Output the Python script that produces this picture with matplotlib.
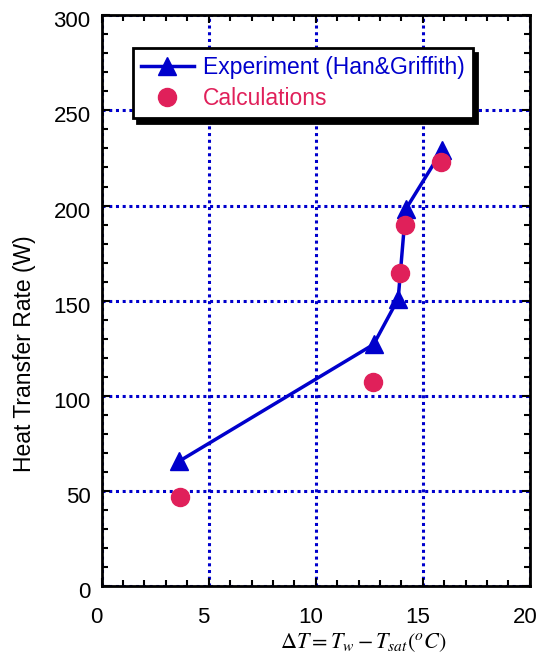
import matplotlib
matplotlib.use("Agg")
import matplotlib.pyplot as plt
from matplotlib.ticker import MultipleLocator
from matplotlib.transforms import ScaledTranslation

plt.rcParams['font.family'] = ['Liberation Sans', 'DejaVu Sans']
plt.rcParams['mathtext.fontset'] = 'stix'
plt.rcParams['xtick.labelsize'] = 16
plt.rcParams['ytick.labelsize'] = 16

exp_dt = [3.6, 12.7, 13.85, 14.2, 15.9]
exp_q = [65.5, 127, 151, 198, 229]
calc_dt = [3.65, 12.67, 13.95, 14.15, 15.85]
calc_q = [47, 107, 164.5, 190, 223]

blue = '#0000CC'
pink = '#E0205A'

fig = plt.figure(figsize=(5.42, 6.63), dpi=100)
ax = fig.add_axes([0.1876, 0.116, 0.790, 0.861])

ax.plot(exp_dt, exp_q, color=blue, lw=2.5, marker='^', ms=13, mfc=blue, mec=blue,
        label='Experiment (Han&Griffith)', zorder=3)
ax.plot(calc_dt, calc_q, ls='none', marker='o', ms=13, mfc=pink, mec=pink,
        label='Calculations', zorder=4)

ax.set_xlim(0, 20)
ax.set_ylim(0, 300)
ax.xaxis.set_major_locator(MultipleLocator(5))
ax.xaxis.set_minor_locator(MultipleLocator(1))
ax.yaxis.set_major_locator(MultipleLocator(50))
ax.yaxis.set_minor_locator(MultipleLocator(10))
ax.tick_params(which='both', direction='in', top=True, right=True, width=1.5)
ax.tick_params(which='major', length=6, labelsize=16)
ax.tick_params(which='minor', length=4)
ax.tick_params(axis='x', which='major', pad=15, labelsize=16)
ax.tick_params(axis='y', which='major', pad=8, labelsize=16)
fig.canvas.draw()
offx = ScaledTranslation(-5 / 100, 0, fig.dpi_scale_trans)
offy = ScaledTranslation(0, -4 / 100, fig.dpi_scale_trans)
for lab in ax.get_xticklabels():
    lab.set_fontsize(16)
    lab.set_transform(lab.get_transform() + offx)
for lab in ax.get_yticklabels():
    lab.set_fontsize(16)
    lab.set_transform(lab.get_transform() + offy)
ax.grid(True, which='major', color=blue, ls=(0, (1, 1.2)), lw=2.2)
for s in ax.spines.values():
    s.set_linewidth(2)

ax.set_ylabel('Heat Transfer Rate (W)', fontsize=16.5)
ax.yaxis.set_label_coords(-0.153, 0.408)
ax.set_xlabel(r'$\Delta T = T_w - T_{sat}(^o C)$', fontsize=16)
ax.xaxis.set_label_coords(0.61, -0.079)

leg = ax.legend(loc='upper left', bbox_to_anchor=(0.073, 0.942), borderaxespad=0,
                fontsize=16.5, frameon=True, fancybox=False,
                shadow={'color': 'black', 'alpha': 1, 'ox': 3, 'oy': -3},
                handlelength=2.3, handletextpad=0.4, borderpad=0.35, labelspacing=0.35)
leg.get_frame().set_edgecolor('black')
leg.get_frame().set_linewidth(2)
leg.get_frame().set_alpha(1)
leg.set_zorder(10)
texts = leg.get_texts()
texts[0].set_color(blue)
texts[1].set_color(pink)

fig.savefig('out.png', dpi=100)
